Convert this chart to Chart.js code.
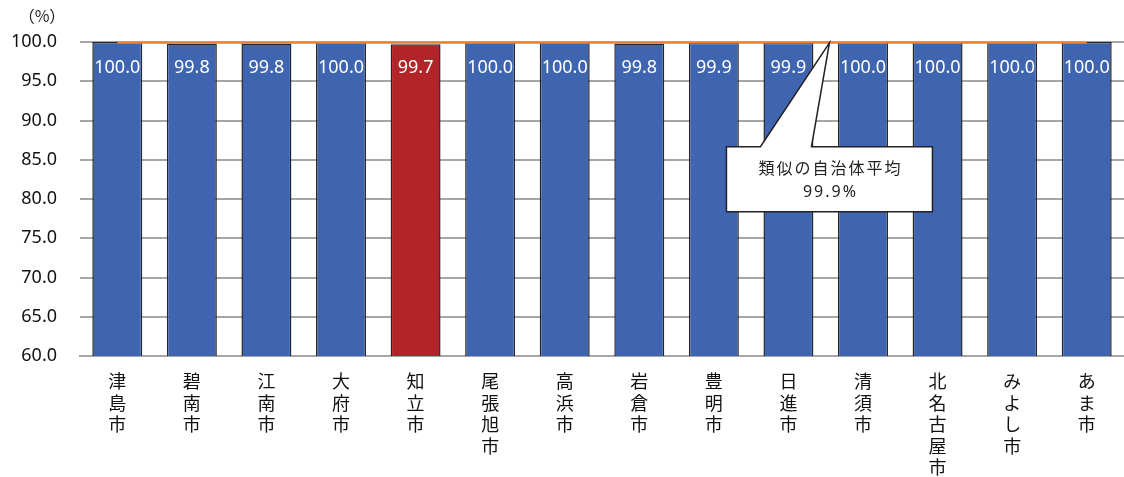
<!DOCTYPE html>
<html lang="ja">
<head>
<meta charset="utf-8">
<script src="https://cdn.jsdelivr.net/npm/chart.js@4/dist/chart.umd.min.js"></script>
<style>
  html, body { margin: 0; padding: 0; background: #fff; }
  #wrap { width: 1124px; height: 477px; position: relative; }
</style>
</head>
<body>
<div id="wrap"><canvas id="rateChart"></canvas></div>
<script>
// 市町村ごとの率 (%) と類似自治体平均
const cities = ['津島市', '碧南市', '江南市', '大府市', '知立市', '尾張旭市', '高浜市',
                '岩倉市', '豊明市', '日進市', '清須市', '北名古屋市', 'みよし市', 'あま市'];
const rates = [100.0, 99.8, 99.8, 100.0, 99.7, 100.0, 100.0, 99.8, 99.9, 99.9, 100.0, 100.0, 100.0, 100.0];
const averageLine = [99.9, 99.9, 99.9, 99.9, 99.9, 99.9, 99.9, 99.9, 99.9, 99.9, 99.9, 99.9, 99.9, 99.9];
const averageValue = 99.9;
const averageText = ['類似の自治体平均', '99.9%'];
const highlightCity = '知立市';
const yTicks = [60, 65, 70, 75, 80, 85, 90, 95, 100];

const BLUE = '#3F65B0';
const RED = '#B32428';
const FONT = "'Noto Sans', 'Noto Sans CJK JP', sans-serif";

// 縦書きラベル (1文字ずつ改行)
const verticalLabels = cities.map(c => Array.from(c));

const barColors = cities.map(c => c === highlightCity ? RED : BLUE);

// バー内の数値ラベル
const valueLabels = {
    id: 'valueLabels',
    afterDatasetsDraw(chart) {
        const { ctx } = chart;
        const meta = chart.getDatasetMeta(0);
        ctx.save();
        ctx.fillStyle = '#fff';
        ctx.font = '18px ' + FONT;
        ctx.textAlign = 'center';
        ctx.textBaseline = 'middle';
        meta.data.forEach((bar, i) => {
            ctx.fillText(rates[i].toFixed(1), bar.x, bar.y + 25);
        });
        ctx.restore();
    }
};

// 単位表示
const unitLabel = {
    id: 'unitLabel',
    afterDraw(chart) {
        const { ctx } = chart;
        ctx.save();
        ctx.fillStyle = '#222';
        ctx.font = "16px 'Noto Sans CJK JP', sans-serif";
        ctx.textAlign = 'center';
        ctx.textBaseline = 'middle';
        ctx.fillText('（%）', 42, 16);
        ctx.restore();
    }
};

// 平均値の吹き出し
const averageCallout = {
    id: 'averageCallout',
    afterDraw(chart) {
        const { ctx, scales: { x, y } } = chart;
        const tipX = x.getPixelForValue(9) + x.getPixelForValue(1) - x.getPixelForValue(0.45);
        const tipY = y.getPixelForValue(averageValue);
        const boxW = 206, boxH = 65;
        const boxL = tipX - boxW / 2;
        const boxT = tipY + 104;
        ctx.save();
        ctx.lineWidth = 1.5;
        ctx.strokeStyle = '#222';
        ctx.fillStyle = '#fff';
        ctx.beginPath();
        ctx.moveTo(boxL, boxT);
        ctx.lineTo(boxL + 34, boxT);
        ctx.lineTo(tipX, tipY);
        ctx.lineTo(boxL + 85, boxT);
        ctx.lineTo(boxL + boxW, boxT);
        ctx.lineTo(boxL + boxW, boxT + boxH);
        ctx.lineTo(boxL, boxT + boxH);
        ctx.closePath();
        ctx.fill();
        ctx.stroke();
        ctx.fillStyle = '#222';
        ctx.font = '16px ' + FONT;
        ctx.letterSpacing = '2px';
        ctx.textAlign = 'center';
        ctx.textBaseline = 'middle';
        ctx.fillText(averageText[0], boxL + boxW / 2 + 1, boxT + 23);
        ctx.fillText(averageText[1], boxL + boxW / 2 + 1, boxT + 46);
        ctx.restore();
    }
};

new Chart(document.getElementById('rateChart'), {
    data: {
        labels: verticalLabels,
        datasets: [
            {
                type: 'line',
                data: averageLine,
                borderColor: '#ED7D31',
                borderWidth: 2,
                pointRadius: 0,
                order: 0
            },
            {
                type: 'bar',
                data: rates,
                backgroundColor: barColors,
                borderColor: '#262626',
                borderWidth: 1.5,
                categoryPercentage: 1,
                barPercentage: 0.67,
                order: 1
            }
        ]
    },
    options: {
        responsive: true,
        maintainAspectRatio: false,
        animation: false,
        layout: { padding: { top: 42, right: 0, left: 0, bottom: 0 } },
        plugins: {
            legend: { display: false },
            tooltip: { enabled: false }
        },
        scales: {
            x: {
                grid: { display: false },
                border: { color: '#a6a6a6', width: 2 },
                ticks: {
                    color: '#111',
                    font: { family: FONT, size: 18, lineHeight: 1.2 },
                    maxRotation: 0,
                    autoSkip: false,
                    padding: 8
                },
                afterFit(scale) { scale.height = 121; }
            },
            y: {
                min: 60,
                max: 100,
                afterBuildTicks(scale) { scale.ticks = yTicks.map(v => ({ value: v })); },
                grid: { color: '#a6a6a6', lineWidth: 2, drawTicks: false },
                border: { display: false },
                ticks: {
                    color: '#111',
                    font: { family: FONT, size: 18 },
                    padding: 23,
                    callback: v => Number(v).toFixed(1)
                },
                afterFit(scale) { scale.width = 80; }
            }
        }
    },
    plugins: [valueLabels, unitLabel, averageCallout]
});
</script>
</body>
</html>
